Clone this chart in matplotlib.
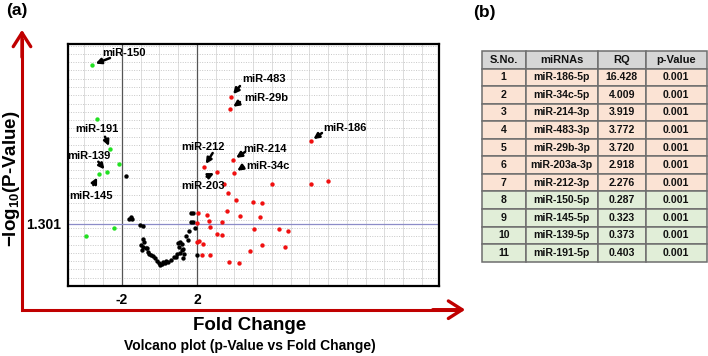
import numpy as np
import matplotlib
matplotlib.use('Agg')
import matplotlib.pyplot as plt
from matplotlib.patches import FancyArrowPatch
from matplotlib.lines import Line2D
from matplotlib.ticker import MultipleLocator, FixedLocator

plt.rcParams['font.family'] = ['Liberation Sans', 'DejaVu Sans']
plt.rcParams['mathtext.fontset'] = 'custom'
plt.rcParams['mathtext.rm'] = 'Liberation Sans:bold'
plt.rcParams['mathtext.bf'] = 'Liberation Sans:bold'
plt.rcParams['mathtext.it'] = 'Liberation Sans:bold'
plt.rcParams['mathtext.default'] = 'bf'

# ---------------- data (volcano plot) ----------------
# up-regulated (red)
up_fc = [3.81, 3.78, 8.06, 2.37, 3.93, 3.99, 3.08,
         3.46, 5.98, 8.06, 9.00, 3.64, 4.06, 4.97, 5.45,
         2.07, 2.52, 3.62, 4.29, 5.36, 2.02, 2.64, 3.32,
         2.69, 5.06, 6.39, 6.84, 3.05, 3.32, 2.02, 2.12,
         2.34, 5.45, 6.69, 4.83, 2.28, 2.68, 3.71, 4.26]
up_logp = [3.97, 3.72, 3.04, 2.50, 2.65, 2.38, 2.40,
           2.15, 2.15, 2.14, 2.21, 1.95, 1.80, 1.76, 1.75,
           1.53, 1.48, 1.57, 1.46, 1.44, 1.33, 1.36, 1.34,
           1.23, 1.20, 1.20, 1.16, 1.09, 1.07, 0.92, 0.94,
           0.88, 0.85, 0.82, 0.73, 0.66, 0.64, 0.50, 0.49]
# down-regulated (green)
down_fc = [-3.58, -3.32, -2.62, -2.14, -2.82, -3.24, -2.43, -3.94]
down_logp = [4.64, 3.50, 2.87, 2.55, 2.39, 2.34, 1.22, 1.05]
# not significant (black)
ns_fc = [-1.80, -1.63, -1.54, -1.47, -1.04, -0.86, -0.90, -1.00, -0.86, -0.74,
         -0.65, -0.95, -0.60, -0.47, -0.33, -0.22, -0.12, -0.04, 0.03, 0.12,
         0.20, 0.35, 0.47, 0.61, 0.77, 0.88, 0.95, 1.09, 1.18, 1.04,
         0.97, 1.09, 1.18, 1.27, 1.31, 1.24, 1.50, 1.57, 1.68, 1.80,
         1.68, 1.77, 1.89, 1.98, -0.80, -0.55, 0.30, 1.40]
ns_logp = [2.31, 1.41, 1.45, 1.41, 1.27, 1.26, 0.98, 0.86, 0.81, 0.79,
           0.79, 0.76, 0.72, 0.65, 0.63, 0.58, 0.53, 0.48, 0.44, 0.46,
           0.51, 0.53, 0.51, 0.55, 0.60, 0.61, 0.67, 0.70, 0.76, 0.82,
           0.91, 0.93, 0.88, 0.77, 0.67, 0.58, 0.97, 1.16, 1.35, 1.35,
           1.53, 1.54, 1.21, 0.65, 0.92, 0.68, 0.49, 1.05]

# labelled miRNAs (point they refer to)
lab_names = ['miR-150', 'miR-483', 'miR-29b', 'miR-186', 'miR-214', 'miR-212',
             'miR-34c', 'miR-203', 'miR-191', 'miR-139', 'miR-145']
lab_fc = [-3.58, 3.81, 3.78, 8.06, 3.93, 2.37, 3.99, 3.08, -2.62, -2.82, -3.24]
lab_logp = [4.64, 3.97, 3.72, 3.04, 2.65, 2.50, 2.38, 2.40, 2.87, 2.39, 2.34]

fc_ticks = [-2, 2]
p_threshold = 1.301

# ---------------- data (table) ----------------
col_labels = ['S.No.', 'miRNAs', 'RQ', 'p-Value']
sno = ['1', '2', '3', '4', '5', '6', '7', '8', '9', '10', '11']
mirnas = ['miR-186-5p', 'miR-34c-5p', 'miR-214-3p', 'miR-483-3p', 'miR-29b-3p',
          'miR-203a-3p', 'miR-212-3p', 'miR-150-5p', 'miR-145-5p', 'miR-139-5p',
          'miR-191-5p']
rq = ['16.428', '4.009', '3.919', '3.772', '3.720', '2.918', '2.276',
      '0.287', '0.323', '0.373', '0.403']
pvals = ['0.001'] * 11
n_up = 7

# ---------------- layout ----------------
W, H = 708, 356
fig = plt.figure(figsize=(W / 100, H / 100), dpi=100)

def fx(px):
    return px / W

def fy(py):
    return 1 - py / H

ax = fig.add_axes([fx(68), fy(286), fx(439) - fx(68), fy(44) - fy(286)])
ax.set_xlim(-4.88, 14.91)
ax.set_ylim(0, 5.078)

# grid
ax.xaxis.set_minor_locator(MultipleLocator(1))
ax.yaxis.set_minor_locator(MultipleLocator(0.174))
ax.grid(which='minor', axis='x', color='#DCDCDC', lw=0.7, ls='-')
ax.grid(which='minor', axis='y', color='#C8C8C8', lw=0.7, ls=(0, (1, 1.5)))
ax.set_axisbelow(True)

ax.axvline(-2, color='#555555', lw=0.9, zorder=1)
ax.axvline(2, color='#555555', lw=0.9, zorder=1)
ax.axhline(p_threshold, color='#8C8CC8', lw=0.9, zorder=1)

ax.scatter(ns_fc, ns_logp, s=10, color='black', zorder=3, linewidths=0)
ax.scatter(up_fc, up_logp, s=10, color='#F01010', zorder=3, linewidths=0)
ax.scatter(down_fc, down_logp, s=10, color='#22E022', zorder=3, linewidths=0)

# label layout: text centre and arrow tail in pixel space (layout only)
lab_text_px = [(124, 53), (264, 79), (266, 98), (345, 128), (265, 149), (203, 147),
               (268, 166), (203, 186), (97, 129), (89, 156), (91, 196)]
lab_tail_px = [(110, 58), (240, 86), (240, 102), (322, 133), (245, 152), (212.7, 153),
               (243.3, 166.7), (206.7, 176.7), (105, 136.7), (98.3, 161.7), (93.3, 185)]

def px2data(p):
    return ((p[0] - 159.5) / 18.75, (286 - p[1]) / 47.66)

for name, x, y, tp, ap in zip(lab_names, lab_fc, lab_logp, lab_text_px, lab_tail_px):
    tx, ty = px2data(tp)
    ax.text(tx, ty, name, ha='center', va='center', fontsize=8, fontweight='bold', zorder=5)
    axx, ayy = px2data(ap)
    ax.annotate('', xy=(x, y), xytext=(axx, ayy),
                arrowprops=dict(arrowstyle='-|>', color='black', lw=1.8,
                                mutation_scale=8, shrinkA=0, shrinkB=2.5), zorder=5)

ax.xaxis.set_major_locator(FixedLocator(fc_ticks))
ax.set_xticklabels([str(t) for t in fc_ticks])
ax.yaxis.set_major_locator(FixedLocator([p_threshold]))
ax.set_yticklabels(['1.301'])
ax.tick_params(which='both', length=0)
ax.tick_params(axis='x', pad=5, labelsize=10)
ax.tick_params(axis='y', pad=5, labelsize=10)
for lbl in ax.get_xticklabels() + ax.get_yticklabels():
    lbl.set_fontweight('bold')
for sp in ax.spines.values():
    sp.set_linewidth(1.6)
    sp.set_color('black')

# red axis arrows
red = '#C00000'
cx, cy = 22, 309.7
fig.add_artist(Line2D([fx(cx), fx(cx), fx(458)], [fy(40), fy(cy), fy(cy)],
                      color=red, lw=2.2, solid_joinstyle='miter',
                      transform=fig.transFigure))
fig.add_artist(FancyArrowPatch((fx(cx), fy(60)), (fx(cx), fy(27)),
                               transform=fig.transFigure,
                               arrowstyle='->,head_length=0.55,head_width=0.35',
                               mutation_scale=18, color=red, lw=2.4))
fig.add_artist(FancyArrowPatch((fx(430), fy(cy)), (fx(468), fy(cy)),
                               transform=fig.transFigure,
                               arrowstyle='->,head_length=0.55,head_width=0.35',
                               mutation_scale=18, color=red, lw=2.4))

fig.text(fx(12), fy(179), '\u2212log$_{10}$(P-Value)', rotation=90, ha='center',
         va='center', fontsize=13.5, fontweight='bold')
fig.text(fx(250), fy(325), 'Fold Change', ha='center', va='center',
         fontsize=13.5, fontweight='bold')
fig.text(fx(250), fy(346), 'Volcano plot (p-Value vs Fold Change)', ha='center',
         va='center', fontsize=10, fontweight='bold')
fig.text(fx(17), fy(11), '(a)', ha='center', va='center', fontsize=12.5, fontweight='bold')
fig.text(fx(484), fy(13), '(b)', ha='center', va='center', fontsize=12.5, fontweight='bold')

# ---------------- table ----------------
tax = fig.add_axes([fx(481.7), fy(261.7), fx(706.7) - fx(481.7), fy(51) - fy(261.7)])
tax.axis('off')
cell_text = [list(r) for r in zip(sno, mirnas, rq, pvals)]
colors = [['#FBE3D4'] * 4 if i < n_up else ['#E1EED8'] * 4 for i in range(len(sno))]
tbl = tax.table(cellText=cell_text, colLabels=col_labels, cellColours=colors,
                colColours=['#D6D6D6'] * 4, colWidths=[44, 72, 48, 61],
                cellLoc='center', bbox=[0, 0, 1, 1])
tbl.auto_set_font_size(False)
for (r, c), cell in tbl.get_celld().items():
    cell.set_edgecolor('#6E6E6E')
    cell.set_linewidth(1.1)
    cell.get_text().set_fontweight('bold')
    cell.get_text().set_fontsize(8 if r == 0 else 7.6)
    cell.get_text().set_color('#111111')

fig.savefig('out.png', dpi=100)
